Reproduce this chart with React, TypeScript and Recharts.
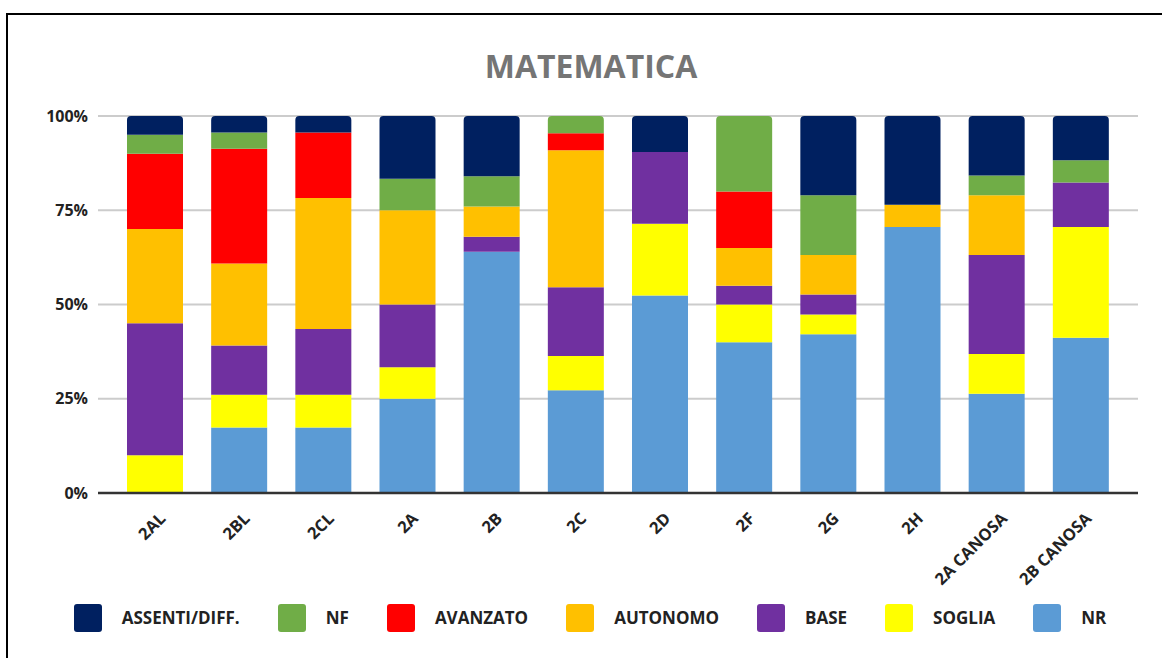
import React from 'react';
import { BarChart, Bar, XAxis, YAxis, CartesianGrid, Legend, Cell } from 'recharts';

const categories = ['2AL', '2BL', '2CL', '2A', '2B', '2C', '2D', '2F', '2G', '2H', '2A CANOSA', '2B CANOSA'];
const nr = [0, 4, 4, 3, 16, 6, 11, 8, 8, 12, 5, 7];
const soglia = [2, 2, 2, 1, 0, 2, 4, 2, 1, 0, 2, 5];
const base = [7, 3, 4, 2, 1, 4, 4, 1, 1, 0, 5, 2];
const autonomo = [5, 5, 8, 3, 2, 8, 0, 2, 2, 1, 3, 0];
const avanzato = [4, 7, 4, 0, 0, 1, 0, 3, 0, 0, 0, 0];
const nf = [1, 1, 0, 1, 2, 1, 0, 4, 3, 0, 1, 1];
const assenti = [1, 1, 1, 2, 4, 0, 2, 0, 4, 4, 3, 2];
const yTicks = [0, 0.25, 0.5, 0.75, 1];

const title = 'MATEMATICA';

const series = [
  { key: 'nr', name: 'NR', color: '#5B9BD5', values: nr },
  { key: 'soglia', name: 'SOGLIA', color: '#FFFF00', values: soglia },
  { key: 'base', name: 'BASE', color: '#7030A0', values: base },
  { key: 'autonomo', name: 'AUTONOMO', color: '#FFC000', values: autonomo },
  { key: 'avanzato', name: 'AVANZATO', color: '#FF0000', values: avanzato },
  { key: 'nf', name: 'NF', color: '#70AD47', values: nf },
  { key: 'assenti', name: 'ASSENTI/DIFF.', color: '#002060', values: assenti },
];

const data = categories.map((c, i) => {
  const row: Record<string, any> = { name: c };
  series.forEach((s) => (row[s.key] = s.values[i]));
  return row;
});

const topKey = categories.map((_, i) => {
  let k = '';
  series.forEach((s) => {
    if (s.values[i] > 0) k = s.key;
  });
  return k;
});

const FONT = '"Open Sans", sans-serif';

const XTick = (props: any) => {
  const { x, y, payload } = props;
  return (
    <g transform={`translate(${x + 7},${y + 22}) rotate(-45)`}>
      <text textAnchor="end" dominantBaseline="central" fontFamily={FONT} fontSize={16.5} fontWeight={700} fill="#222">
        {payload.value}
      </text>
    </g>
  );
};

const renderLegend = () => {
  const items = [...series].reverse();
  return (
    <div style={{ display: 'flex', justifyContent: 'center', alignItems: 'center', fontFamily: FONT }}>
      {items.map((s, i) => (
        <div key={s.key} style={{ display: 'flex', alignItems: 'center', marginLeft: i === 0 ? 0 : 38 }}>
          <div style={{ width: 28, height: 28, background: s.color, borderRadius: 3 }} />
          <span style={{ marginLeft: 20, fontSize: 17, fontWeight: 700, color: '#222', lineHeight: '28px' }}>{s.name}</span>
        </div>
      ))}
    </div>
  );
};

export default function App() {
  return (
    <div style={{ position: 'absolute', left: 0, top: 0, width: 1162, height: 658, overflow: 'hidden', background: '#fff' }}>
      <div
        style={{
          position: 'absolute',
          left: 6,
          top: 13,
          width: 1200,
          height: 700,
          borderTop: '2px solid #000',
          borderLeft: '2px solid #000',
          boxSizing: 'border-box',
        }}
      />
      <div
        style={{
          position: 'absolute',
          left: 0,
          top: 50,
          width: 1182,
          textAlign: 'center',
          fontFamily: FONT,
          fontSize: 32,
          fontWeight: 700,
          color: '#757575',
          lineHeight: '32px',
        }}
      >
        {title}
      </div>
      <div style={{ position: 'absolute', left: 0, top: 0 }}>
        <BarChart
          width={1162}
          height={658}
          data={data}
          stackOffset="expand"
          margin={{ top: 116, right: 24, bottom: 0, left: 0 }}
        >
          <CartesianGrid vertical={false} stroke="#cccccc" strokeWidth={2} />
          <XAxis
            dataKey="name"
            height={165}
            padding={{ left: 15, right: 15 }}
            tickSize={0}
            tickMargin={0}
            tick={<XTick />}
            interval={0}
            axisLine={{ stroke: '#333', strokeWidth: 2.5 }}
          />
          <YAxis
            width={98}
            ticks={yTicks}
            domain={[0, 1]}
            tickFormatter={(v: number) => `${Math.round(v * 100)}%`}
            axisLine={false}
            tickSize={0}
            tickMargin={10}
            tick={{ fontFamily: FONT, fontSize: 16, fontWeight: 700, fill: '#222' }}
          />
          <Legend
            layout="horizontal"
            verticalAlign="middle"
            align="center"
            wrapperStyle={{ top: 604, left: 9, width: 1162 }}
            content={renderLegend}
          />
          {series.map((s) => (
            <Bar key={s.key} dataKey={s.key} name={s.name} stackId="a" fill={s.color} barSize={56} isAnimationActive={false}>
              {categories.map((c, i) => (
                <Cell key={c} fill={s.color} radius={(topKey[i] === s.key ? [4, 4, 0, 0] : 0) as any} />
              ))}
            </Bar>
          ))}
        </BarChart>
      </div>
    </div>
  );
}
